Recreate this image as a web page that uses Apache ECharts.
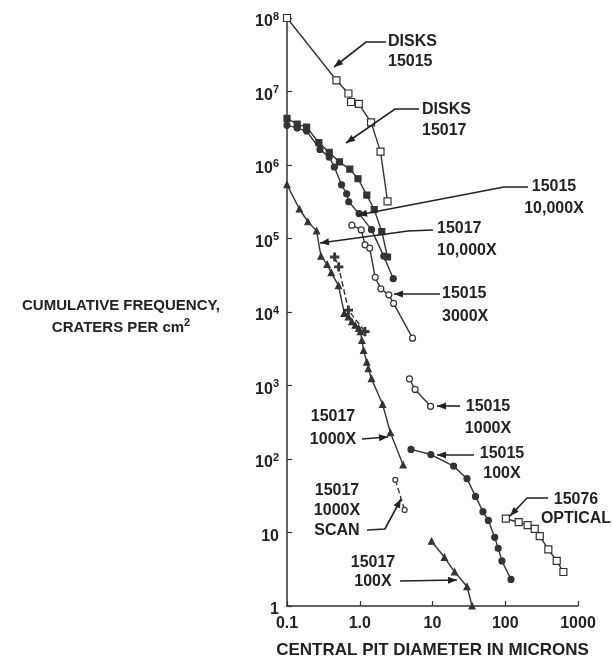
<!DOCTYPE html>
<html><head><meta charset="utf-8">
<script src="https://cdn.jsdelivr.net/npm/echarts@6/dist/echarts.min.js"></script>
<style>html,body{margin:0;padding:0;background:#fff}#c{width:613px;height:658px}</style>
</head><body><div id="c"></div>
<script>
// ---- tick labels ----
const xTickLabels = ['0.1', '1.0', '10', '100', '1000'];
const yTickLabels = ['1', '10', '10{sup|2}', '10{sup|3}', '10{sup|4}', '10{sup|5}', '10{sup|6}', '10{sup|7}', '10{sup|8}'];

// ---- series data: [diameter (microns), cumulative frequency (per cm2)] ----
const disks15015 = [[0.1,1e8],[0.478,1.42e7],[0.699,9.4e6],[0.76,7.2e6],[0.97,6.8e6],[1.43,3.8e6],[1.93,1.52e6],[2.41,3.2e5]];
const disks15017 = [[0.1,4.3e6],[0.138,3.59e6],[0.186,3.27e6],[0.274,2.01e6],[0.38,1.49e6],[0.526,1.1e6],[0.73,8.8e5],[0.946,6.5e5],[1.25,3.9e5],[1.58,2.47e5],[2.01,1.24e5],[2.41,5.6e4]];
const s15015x10000 = [[0.1,3.48e6],[0.138,3.18e6],[0.186,2.9e6],[0.284,1.63e6],[0.38,1.28e6],[0.448,9.4e5],[0.562,5.37e5],[0.661,4.06e5],[0.706,3.16e5],[0.977,2.18e5],[1.45,1.32e5],[2.14,5.75e4],[2.89,2.84e4]];
const s15017x10000 = [[0.1,5.4e5],[0.148,2.52e5],[0.194,1.69e5],[0.255,1.27e5],[0.293,5.75e4],[0.356,4.45e4],[0.406,3.44e4],[0.51,2.29e4],[0.614,9.6e3]];
const s15017x1000 = [[0.614,9.6e3],[0.698,8.6e3],[0.778,7.4e3],[0.867,6.6e3],[0.968,6.0e3],[1.02,5.4e3],[1.07,4.1e3],[1.13,3.0e3],[1.25,2.08e3],[1.31,1.69e3],[1.45,1.24e3],[2.06,555],[2.64,228],[3.95,83]];
const s15017x1000plus = [[0.452,5.6e4],[0.514,4.1e4],[0.698,1.06e4],[1.18,5.4e3]];
const s15015x3000 = [[0.778,1.52e5],[1.05,1.31e5],[1.18,8.2e4],[1.37,7.4e4],[1.63,2.96e4],[1.95,2.07e4],[2.51,1.71e4],[2.92,1.31e4],[5.32,4.4e3]];
const s15015x1000 = [[4.82,1230],[5.77,883],[9.4,521]];
const s15015x100 = [[5.07,135],[9.5,115],[19.5,80],[29.8,54],[39,31],[49.4,19.2],[58.6,14.6],[71.6,8.6],[80,6.1],[90,4.1],[120,2.3]];
const s15017x1000scan = [[3.08,52],[4.14,20.3]];
const s15076optical = [[102,15.4],[153,13.8],[203,12.6],[254,11.2],[298,8.9],[391,5.9],[510,4.1],[630,2.9]];
const s15017x100 = [[9.7,7.6],[14.6,4.6],[20.1,2.92],[29.8,1.84],[35,1.0]];

// ---- annotation layout (pixels) ----
const annotations = [
  {text:'DISKS\n15015', x:388, y:51.5, align:'left', lh:20, path:[[386,42],[366,42],[334,67]]},
  {text:'DISKS\n15017', x:422, y:120, align:'left', lh:21, path:[[419,109],[395,109],[346,143]]},
  {text:'15015\n10,000X', x:554, y:198, align:'center', lh:22, path:[[528,187],[504,187],[358,215]]},
  {text:'15017\n10,000X', x:437, y:240, align:'left', lh:22, path:[[433,230],[408,231],[320,243]]},
  {text:'15015\n3000X', x:442, y:305.5, align:'left', lh:23, path:[[440,294],[394,294]]},
  {text:'15015\n1000X', x:488, y:418, align:'center', lh:22, path:[[460,406],[437,406]]},
  {text:'15015\n100X', x:502, y:464, align:'center', lh:20, path:[[474,455],[437,455]]},
  {text:'15076\nOPTICAL', x:576, y:509.5, align:'center', lh:19, path:[[548,498],[527,498],[510,516]]},
  {text:'15017\n1000X', x:333, y:428, align:'center', lh:23, path:[[362,439],[388,437]]},
  {text:'15017\n1000X\nSCAN', x:337, y:511, align:'center', lh:20, path:[[367,530],[385,529],[401,499]]},
  {text:'15017\n100X', x:373, y:572, align:'center', lh:19.5, path:[[400,581],[457,580]]}
];

const FONT = '"Liberation Sans", Arial, sans-serif';
const INK = '#222';
const LINE = '#333';
const plusPath = 'path://M4,0 L6,0 L6,4 L10,4 L10,6 L6,6 L6,10 L4,10 L4,6 L0,6 L0,4 L4,4 Z';

function ser(name, data, symbol, filled, size, dashed) {
  return {
    name, type: 'line', data, symbol, symbolSize: size, showSymbol: true, animation: false,
    lineStyle: {color: LINE, width: 1.4, type: dashed ? 'dashed' : 'solid'},
    itemStyle: {color: filled ? LINE : '#fff', borderColor: LINE, borderWidth: 1.2},
    emphasis: {disabled: true}, z: 3
  };
}

const graphics = [];
annotations.forEach(a => {
  graphics.push({type:'text', x:a.x, y:a.y, z:10, silent:true,
    style:{text:a.text, fontFamily:FONT, fontWeight:'bold', fontSize:16, fill:INK,
      align:a.align, verticalAlign:'middle', lineHeight:a.lh}});
  graphics.push({type:'polyline', z:10, silent:true, shape:{points:a.path},
    style:{stroke:INK, lineWidth:1.6, fill:null}});
  const p2 = a.path[a.path.length-1], p1 = a.path[a.path.length-2];
  const dx = p2[0]-p1[0], dy = p2[1]-p1[1], L = Math.hypot(dx,dy);
  const ux = dx/L, uy = dy/L, px = -uy, py = ux;
  const bx = p2[0]-ux*9, by = p2[1]-uy*9;
  graphics.push({type:'polygon', z:10, silent:true,
    shape:{points:[[p2[0],p2[1]],[bx+px*3.5,by+py*3.5],[bx-px*3.5,by-py*3.5]]},
    style:{fill:INK}});
});

const supStyle = {fontFamily: FONT, fontWeight: 'bold', fontSize: 11, lineHeight: 12, verticalAlign: 'top', color: INK};

const chart = echarts.init(document.getElementById('c'));
chart.setOption({
  backgroundColor: '#fff',
  animation: false,
  grid: {left: 287, right: 35, top: 18, bottom: 52, containLabel: false, outerBoundsMode: 'none'},
  xAxis: {
    type: 'log', logBase: 10, min: 0.1, max: 1000, splitNumber: 4,
    name: 'CENTRAL PIT DIAMETER IN MICRONS', nameLocation: 'middle', nameGap: 36,
    nameTextStyle: {fontFamily: FONT, fontWeight: 'bold', fontSize: 17, color: INK},
    axisLine: {show: true, lineStyle: {color: LINE, width: 1.5}},
    axisTick: {show: true, inside: true, length: 5, lineStyle: {color: LINE, width: 1.2}},
    axisLabel: {margin: 10, fontFamily: FONT, fontWeight: 'bold', fontSize: 16, color: INK,
      formatter: v => xTickLabels[Math.round(Math.log10(v)) + 1]},
    splitLine: {show: false}
  },
  yAxis: {
    type: 'log', logBase: 10, min: 1, max: 1e8, splitNumber: 8,
    name: 'CUMULATIVE FREQUENCY,\nCRATERS PER cm{sup|2}', nameLocation: 'middle', nameRotate: 0, nameGap: 166,
    nameTextStyle: {fontFamily: FONT, fontWeight: 'bold', fontSize: 15, color: INK, align: 'center',
      lineHeight: 22, padding: [10, 0, 0, 0],
      rich: {sup: supStyle}},
    axisLine: {show: true, lineStyle: {color: LINE, width: 1.5}},
    axisTick: {show: true, inside: true, length: 5, lineStyle: {color: LINE, width: 1.2}},
    axisLabel: {margin: 8, fontFamily: FONT, fontWeight: 'bold', fontSize: 16, color: INK, lineHeight: 22,
      padding: [8, 0, 0, 0],
      formatter: v => yTickLabels[Math.round(Math.log10(v))],
      rich: {sup: supStyle}},
    splitLine: {show: false}
  },
  series: [
    ser('DISKS 15015', disks15015, 'rect', false, 7),
    ser('DISKS 15017', disks15017, 'rect', true, 6),
    ser('15015 10,000X', s15015x10000, 'circle', true, 6),
    ser('15017 10,000X', s15017x10000, 'triangle', true, 6),
    ser('15017 1000X', s15017x1000, 'triangle', true, 6),
    ser('15017 1000X (+)', s15017x1000plus, plusPath, true, 8, true),
    ser('15015 3000X', s15015x3000, 'circle', false, 6),
    ser('15015 1000X', s15015x1000, 'circle', false, 6),
    ser('15015 100X', s15015x100, 'circle', true, 6),
    ser('15017 1000X SCAN', s15017x1000scan, 'circle', false, 5, true),
    ser('15076 OPTICAL', s15076optical, 'rect', false, 7),
    ser('15017 100X', s15017x100, 'triangle', true, 6)
  ],
  graphic: graphics
});
</script>
</body></html>
